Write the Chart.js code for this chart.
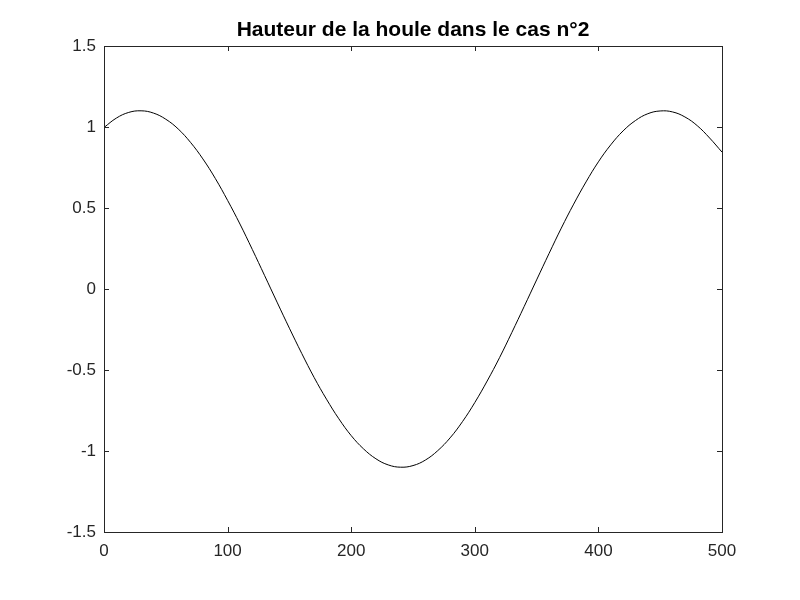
<!DOCTYPE html>
<html>
<head>
<meta charset="utf-8">
<script src="https://cdn.jsdelivr.net/npm/chart.js@4/dist/chart.umd.min.js"></script>
<style>
  html, body { margin: 0; padding: 0; background: #fff; }
  #wrap { width: 800px; height: 600px; }
</style>
</head>
<body>
<div id="wrap"><canvas id="houleChart" width="800" height="600"></canvas></div>
<script>
// positions along x
const positions = [0, 10, 20, 30, 40, 50, 60, 70, 80, 90,
    100, 110, 120, 130, 140, 150, 160, 170, 180, 190,
    200, 210, 220, 230, 240, 250, 260, 270, 280, 290,
    300, 310, 320, 330, 340, 350, 360, 370, 380, 390,
    400, 410, 420, 430, 440, 450, 460, 470, 480, 490, 500];

// wave height
const hauteur = [0.997, 1.055, 1.090, 1.100, 1.086, 1.048, 0.988, 0.905, 0.803, 0.683,
    0.547, 0.401, 0.244, 0.082, -0.081, -0.242, -0.398, -0.546, -0.680, -0.801,
    -0.905, -0.987, -1.048, -1.086, -1.100, -1.090, -1.056, -0.998, -0.919, -0.819,
    -0.701, -0.568, -0.424, -0.268, -0.107, 0.056, 0.218, 0.376, 0.524, 0.661,
    0.785, 0.890, 0.976, 1.040, 1.082, 1.099, 1.093, 1.062, 1.008, 0.932, 0.845];

const xTicks = [0, 100, 200, 300, 400, 500];
const yTicks = [-1.5, -1, -0.5, 0, 0.5, 1, 1.5];

const axisColor = '#262626';
const tickFont = { family: "'Liberation Sans', Arial, sans-serif", size: 17 };

// MATLAB style box with inward ticks
const boxPlugin = {
    id: 'matlabBox',
    afterDraw(chart) {
        const { ctx, chartArea: a, scales } = chart;
        ctx.save();
        ctx.strokeStyle = axisColor;
        ctx.lineWidth = 1;
        ctx.strokeRect(Math.round(a.left) + 0.5, Math.round(a.top) + 0.5,
            Math.round(a.right - a.left), Math.round(a.bottom - a.top));
        const len = 5;
        ctx.beginPath();
        xTicks.forEach(v => {
            const px = Math.round(scales.x.getPixelForValue(v)) + 0.5;
            ctx.moveTo(px, a.bottom); ctx.lineTo(px, a.bottom - len);
            ctx.moveTo(px, a.top); ctx.lineTo(px, a.top + len);
        });
        yTicks.forEach(v => {
            const py = Math.round(scales.y.getPixelForValue(v)) + 0.5;
            ctx.moveTo(a.left, py); ctx.lineTo(a.left + len, py);
            ctx.moveTo(a.right, py); ctx.lineTo(a.right - len, py);
        });
        ctx.stroke();
        ctx.restore();
    }
};

new Chart(document.getElementById('houleChart'), {
    type: 'line',
    data: {
        datasets: [{
            data: positions.map((x, i) => ({ x: x, y: hauteur[i] })),
            borderColor: '#000000',
            borderWidth: 1,
            pointRadius: 0,
            tension: 0.4,
            fill: false
        }]
    },
    options: {
        responsive: false,
        animation: false,
        layout: { padding: { left: 0, right: 78, top: 0, bottom: 0 } },
        plugins: {
            legend: { display: false },
            tooltip: { enabled: false },
            title: {
                display: true,
                text: 'Hauteur de la houle dans le cas n°2',
                fullSize: false,
                color: '#000000',
                font: { family: "'Liberation Sans', Arial, sans-serif", size: 21, weight: 'bold' },
                padding: { top: 18, bottom: 2.8 }
            }
        },
        scales: {
            x: {
                type: 'linear',
                min: 0,
                max: 500,
                afterFit: s => { s.height = 68; },
                afterBuildTicks: s => { s.ticks = xTicks.map(v => ({ value: v })); },
                grid: { display: false, drawTicks: false },
                border: { display: false },
                ticks: { color: axisColor, font: tickFont, padding: 9, maxRotation: 0 }
            },
            y: {
                type: 'linear',
                min: -1.5,
                max: 1.5,
                afterFit: s => { s.width = 104; },
                afterBuildTicks: s => { s.ticks = yTicks.map(v => ({ value: v })); },
                grid: { display: false, drawTicks: false },
                border: { display: false },
                ticks: { color: axisColor, font: tickFont, padding: 8, callback: v => String(v) }
            }
        }
    },
    plugins: [boxPlugin]
});
</script>
</body>
</html>
